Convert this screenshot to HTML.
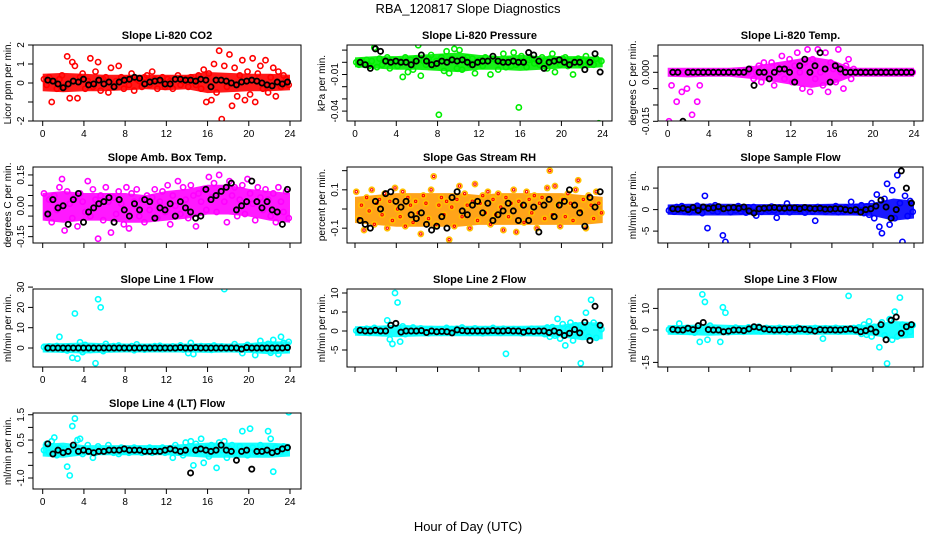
<!DOCTYPE html>
<html><head><meta charset="utf-8"><style>
body{margin:0;background:#fff}
svg{display:block;font-family:"Liberation Sans",sans-serif}
</style></head><body>
<svg id="chart" width="936" height="540" viewBox="0 0 936 540">
<rect width="936" height="540" fill="#fff"/>
<text x="468" y="13" text-anchor="middle" font-size="13">RBA_120817  Slope Diagnostics</text>
<text x="468" y="531" text-anchor="middle" font-size="13">Hour of Day (UTC)</text>
</svg>
<script>
// x-axis tick labels (hours)
const hourTicks = [0,4,8,12,16,20,24];
// envelope hours for dense bands
const bandHours = [0,2,4,6,8,10,12,14,16,18,20,22,24];

const co2Vals = [0.2,-0.1,0.3,-1.0,0.1,-0.3,0.2,0.4,-0.2,1.4,-0.8,1.1,0.9,-0.8,0.3,0.5,-0.3,0.1,1.3,-0.2,0.6,1.1,-0.4,0.2,0.3,-0.5,0.8,-0.2,0.1,0.9,0.3,-0.3,0.2,-0.1,0.5,-0.4,0.2,0.1,-0.2,0.3,0.4,-0.1,0.6,0.2,-0.3,0.1,0.3,-0.2,0.2,0.1,-0.3,0.2,0.4,-0.1,0.1,0.2,-0.2,0.3,0.1,-0.1,0.4,-0.3,0.7,-1.0,0.5,-0.9,1.0,-0.5,1.7,-1.9,0.9,-0.2,1.5,-1.2,0.8,-0.7,0.4,1.2,-0.9,0.6,-0.6,1.3,-1.0,0.5,0.9,-0.3,1.2,-0.5,0.3,0.8,-0.7,0.6,-0.2,0.4,0.2,-0.1];
const co2Black = [0.15,0.1,-0.05,-0.25,-0.05,0.1,0.05,0.2,-0.1,-0.05,0.15,-0.05,0.05,-0.2,0.05,0.15,0.2,0.3,0.25,-0.05,0.05,0.1,0.15,-0.05,-0.05,0.2,0.2,0.15,0.15,0.1,0.2,0.15,-0.2,0.15,0.15,0.1,0.0,-0.1,0.05,0.1,0.15,0.1,0.0,-0.1,-0.15,0.05,-0.05,0.05];
const co2Low = [-0.3,-0.35,-0.3,-0.3,-0.25,-0.2,-0.25,-0.2,-0.4,-0.35,-0.3,-0.3,-0.25];
const co2High = [0.35,0.4,0.35,0.3,0.3,0.3,0.3,0.3,0.45,0.4,0.35,0.35,0.3];

const presVals = [0,-0.002,0.001,-0.001,0.002,-0.003,0.001,0.012,-0.004,0.003,-0.002,0.001,0.004,-0.005,0.002,0,-0.003,0.001,-0.012,0.004,-0.008,0.002,-0.006,0.003,0.014,-0.011,0.001,-0.002,0.003,0.006,-0.003,0.001,-0.043,0.004,-0.007,0.009,-0.009,0.003,0.011,-0.005,0.01,-0.006,0.002,0.004,-0.002,0.003,-0.009,0.001,0.002,-0.003,0.004,0.001,-0.01,0.003,0.002,-0.006,0.001,0.007,-0.004,0.002,-0.003,0.008,-0.002,-0.037,0.005,0.001,-0.004,0.002,0.003,-0.001,0.002,-0.002,0.004,0.001,-0.005,0.003,0.007,-0.008,0.002,-0.002,0.003,0.004,-0.003,0.001,-0.01,0.002,0.003,-0.002,0.001,0.005,-0.001,0.002,-0.002,0.003,-0.05,0.001];
const presBlack = [0,-0.002,-0.005,0.011,0.009,0.001,0,0.001,0,0,-0.002,0.001,0.006,0.001,-0.002,-0.001,0.001,0,0.002,0.001,0.002,0,-0.002,0,0.001,0.001,0.005,0.001,0,0,0.001,0,0,0.008,0.006,0.001,-0.005,0,0.001,0.002,0,-0.002,0,0,-0.006,0,0.007,-0.008];
const presLow = [-0.002,-0.003,-0.004,-0.004,-0.005,-0.006,-0.004,-0.004,-0.005,-0.004,-0.003,-0.003,-0.002];
const presHigh = [0.002,0.003,0.003,0.004,0.005,0.006,0.004,0.003,0.004,0.003,0.003,0.003,0.002];

const tempVals = [-0.015,-0.004,0,-0.009,0,-0.006,0,-0.005,0,-0.013,0,-0.009,-0.004,0,0,0,0,0,0,0,0,0,0,0,0,0,0,0,0,0,0,0,0.001,-0.002,0,0.002,-0.003,0.003,0,-0.001,0.003,-0.004,0.002,0,0.005,-0.002,0.001,0.004,-0.003,0.002,0.006,0,-0.005,0.003,0.007,-0.006,0.004,-0.002,0.007,0,-0.004,0.006,-0.006,0.003,0.001,-0.003,0.007,0,-0.005,0.002,0.004,-0.002,0.001,0,0,0,0,0,0,0,0,0,0,0,0,0,0,0,0,0,0,0,0,0,0,0];
const tempBlack = [0,0,-0.015,0,0,0,0,0,0,0,0,0,0,0,0,0.001,-0.004,0,0,-0.002,0,0.001,0.001,0,-0.003,0.002,0.004,0,0.002,0.006,0.001,-0.003,0.002,0.001,0,0,0,0,0,0,0,0,0,0,0,0,0,0];
const tempLow = [-0.0006,-0.0008,-0.0006,-0.0006,-0.0012,-0.002,-0.003,-0.004,-0.003,-0.0006,-0.0006,-0.0006,-0.0006];
const tempHigh = [0.0006,0.0006,0.0006,0.0006,0.001,0.002,0.003,0.004,0.003,0.0006,0.0006,0.0006,0.0006];

const ambVals = [0.06,-0.04,0.03,-0.08,0.05,-0.02,0.09,0.13,-0.12,0.07,0.01,-0.06,0.04,-0.1,0.06,0.02,-0.03,0.12,-0.05,0.08,0.03,-0.16,0.05,-0.07,0.09,0.02,-0.13,0.04,-0.04,0.07,0.01,-0.09,0.09,-0.11,0.06,0.02,0.08,-0.05,0.03,-0.08,0.05,-0.02,0.04,0.08,-0.06,0.02,0.07,-0.03,0.1,-0.09,0.05,0.0,0.12,-0.04,0.09,0.03,-0.06,0.1,0.05,-0.1,0.06,0.02,0.08,-0.02,0.14,0.04,0.11,-0.03,0.15,0.07,0.02,-0.08,0.12,0.05,0.09,-0.05,0.03,0.1,-0.04,0.13,0.06,0.01,-0.07,0.09,0.04,-0.02,0.08,0.03,-0.05,0.06,-0.08,0.09,0.02,-0.03,0.07,-0.06];
const ambBlack = [-0.04,0.03,-0.01,0.0,-0.09,0.03,0.06,-0.08,-0.03,-0.01,0.01,0.02,0.04,-0.08,0.03,-0.02,-0.05,0.01,-0.02,0.03,0.02,-0.06,-0.01,-0.02,0.01,-0.05,0.02,-0.01,-0.03,-0.06,-0.05,0.08,0.03,0.05,0.07,0.09,0.11,-0.02,0.0,0.02,0.12,0.02,-0.01,0.02,-0.02,-0.03,-0.09,0.08];
const ambLow = [-0.06,-0.07,-0.06,-0.06,-0.07,-0.07,-0.06,-0.05,-0.03,-0.03,-0.04,-0.06,-0.07];
const ambHigh = [0.05,0.06,0.05,0.05,0.05,0.04,0.06,0.07,0.09,0.09,0.07,0.06,0.05];

const rhVals = [0.09,-0.05,0.02,-0.11,0.06,-0.01,0.1,-0.08,0.03,0.05,-0.03,0.08,-0.1,0.04,-0.06,0.11,0.0,-0.04,0.09,-0.09,0.06,0.02,-0.07,0.04,-0.02,-0.13,0.07,0.03,-0.05,0.1,0.17,-0.08,0.02,0.06,-0.03,0.04,-0.16,0.01,-0.09,0.05,0.12,-0.04,0.08,0.02,-0.1,0.04,0.13,-0.06,0.03,0.07,-0.02,0.09,-0.08,0.05,-0.03,0.08,0.01,-0.11,0.06,-0.04,0.03,0.1,-0.12,0.04,0.02,-0.07,0.09,0.05,-0.02,0.07,-0.1,0.03,0.06,-0.05,0.11,0.2,-0.03,0.12,0.02,-0.09,0.05,-0.04,0.08,0.03,-0.06,0.1,0.15,-0.01,0.05,-0.1,0.07,0.02,-0.05,0.09,0.03,-0.02];
const rhBlack = [-0.06,-0.08,-0.1,0.04,0.0,0.08,0.09,0.04,0.01,0.04,-0.03,-0.05,-0.02,-0.08,-0.11,-0.09,-0.04,-0.1,0.06,0.09,-0.01,-0.03,0.02,0.04,-0.02,0.03,-0.06,-0.03,-0.01,0.03,-0.01,-0.06,0.02,-0.06,0.01,-0.12,0.02,0.05,-0.04,0.02,0.04,0.1,0.02,-0.02,-0.09,0.06,0.01,0.09];
const rhLow = [-0.06,-0.07,-0.08,-0.08,-0.08,-0.08,-0.07,-0.07,-0.07,-0.07,-0.07,-0.07,-0.06];
const rhHigh = [0.05,0.06,0.07,0.07,0.07,0.07,0.06,0.07,0.07,0.07,0.07,0.06,0.05];

const sampVals = [-0.2,0.3,-0.5,0.6,-0.1,0.8,-0.4,0.2,-0.6,0.5,-0.2,0.9,0.1,-0.8,3.2,-4.3,0.7,-0.3,1.0,-0.5,0.2,-6.0,-7.5,0.4,-0.6,0.3,-0.2,0.8,-0.4,0.1,-0.7,0.5,-0.3,0.6,-1.4,0.2,-0.5,0.4,0.1,-0.3,0.7,-0.2,-1.9,0.5,-0.4,0.3,1.4,-0.6,0.2,-0.1,0.5,-0.3,0.4,-0.7,0.1,0.3,-0.4,-2.6,0.6,-0.2,0.3,-0.5,0.4,0.1,-0.3,0.8,-0.6,0.2,-0.4,0.5,-0.1,1.8,-0.3,0.6,-0.5,1.0,-0.8,0.7,-1.2,1.5,-2.0,3.5,-4.0,-5.5,2.5,6.0,-3.5,4.5,-2.0,8.0,1.5,-7.5,3.2,-1.5,2.0,-0.5];
const sampBlack = [0.2,0.1,0.3,0.0,0.5,-0.2,0.6,0.3,0.4,0.7,0.2,0.4,0.5,0.3,0.6,-0.3,-0.8,0.2,0.3,0.4,0.5,0.3,0.3,0.4,0.4,0.2,0.5,0.3,0.2,0.3,0.1,0.1,0.2,0.2,0.0,-0.2,0.0,-0.6,0.0,0.2,0.8,2.2,0.6,-2.0,0.0,9.0,5.0,1.5];
const sampLow = [-0.6,-0.8,-0.8,-0.8,-0.7,-0.7,-0.7,-0.7,-0.8,-0.8,-0.9,-2.0,-1.5];
const sampHigh = [0.6,0.8,0.8,0.8,0.7,0.7,0.7,0.7,0.8,0.8,1.0,2.0,1.5];

const l1Vals = [0.5,-0.3,0.8,-0.5,0.2,1.0,5.5,-0.8,0.3,-1.2,0.6,-4.8,17.0,-5.2,2.8,-2.0,1.5,0.4,-1.0,0.8,-7.5,24.0,20.0,-1.5,2.0,0.3,-0.6,0.9,-0.4,1.2,-0.2,0.6,-0.5,0.3,0.9,-1.1,1.8,-0.3,0.5,-0.8,0.2,0.6,-0.4,0.9,-0.2,1.1,-0.6,0.3,0.5,-0.1,0.8,-0.5,0.2,1.3,-0.7,0.4,-2.5,2.5,-3.0,0.6,-0.3,0.9,-0.5,0.2,0.7,-0.9,1.2,0.3,-0.4,0.8,29.0,-0.6,0.5,-0.2,1.9,-0.5,0.3,-2.5,0.8,1.5,-0.4,0.6,-3.5,1.0,3.5,-1.0,0.5,2.0,-2.3,4.0,1.2,-3.0,5.5,2.5,-0.8,3.0];
const l1Black = [0,0,0,0,0,0,0,0,0,0,0,0,0,0,0,0,0,0,0,0,0,0,0,0,0,0,0.2,0,0,0.2,0,0,0,0,0,0,0,0,-0.5,0.2,0,0,0,0,0,0,0,0.2];
const l1Low = [-1.0,-1.2,-1.5,-1.2,-1.0,-1.0,-1.0,-1.0,-1.2,-1.0,-1.2,-1.8,-1.5];
const l1High = [1.0,1.2,1.5,1.2,1.0,1.0,1.0,1.0,1.2,1.0,1.2,2.0,2.0];

const l2Vals = [0.1,-0.3,0.4,-0.2,0.6,-0.5,0.3,0.8,-0.4,0.2,-0.6,0.5,2.8,-2.2,-3.4,10.0,7.5,-2.8,1.2,-0.8,0.6,-0.3,0.9,-0.5,0.2,0.7,-0.4,0.3,-0.6,0.5,0.1,-0.2,0.4,-0.5,0.2,0.8,-0.3,0.5,-0.1,0.6,-0.4,0.9,-0.2,0.3,-0.5,0.4,0.7,-0.3,0.2,-0.6,0.5,0.1,-0.4,0.8,-0.2,0.3,-0.5,0.6,-6.0,0.2,-0.3,0.5,-0.1,0.4,-0.6,0.3,0.2,-0.4,0.6,-0.2,0.5,-0.3,0.3,-0.8,0.9,-1.5,1.0,-1.2,3.2,-2.0,1.8,-3.8,0.5,2.2,-2.5,1.5,-0.8,-8.5,0.8,4.8,-1.5,8.2,2.2,-1.8,1.5,0.5];
const l2Black = [0.2,0,0,0.2,0,0,1.5,2.0,-0.3,0,0,0,0.1,-0.4,0,-0.2,-0.1,-0.2,-0.5,0.3,0.1,0,0,0,0,0,0.1,0,0,0.1,0,0,-0.3,0,-0.1,0,0,-0.4,0,-0.4,-1.2,-0.6,0.4,-0.5,2.3,-2.5,6.5,1.5];
const l2Low = [-0.6,-0.7,-1.0,-0.8,-0.7,-0.7,-0.7,-0.7,-0.7,-0.8,-1.0,-1.8,-1.5];
const l2High = [0.6,0.7,1.0,0.8,0.7,0.7,0.7,0.7,0.7,0.8,1.0,1.8,1.5];

const l3Vals = [0.2,-0.5,0.8,-0.3,3.0,-0.6,0.4,1.0,-0.8,0.3,-1.2,0.6,-5.5,16.5,13.0,-4.5,2.0,-0.6,0.9,-0.3,-5.5,10.5,8.0,-1.0,0.6,-0.4,1.1,-0.2,0.5,-0.8,0.3,1.2,-0.5,0.8,-0.3,1.5,-0.6,0.4,0.9,-0.2,0.6,-0.7,0.3,1.0,-0.4,0.5,-0.9,0.2,0.7,-0.3,1.1,-0.5,0.4,0.2,-0.8,0.6,-0.2,0.9,-0.6,0.3,-4.0,0.8,-0.4,0.5,-0.2,1.0,-0.7,0.3,0.6,-0.5,15.8,-0.3,0.9,-0.6,1.2,-1.8,2.5,-2.2,4.0,-3.0,1.5,-1.0,-8.0,3.5,-2.5,-15.5,5.0,-4.5,8.5,-3.0,15.0,2.5,-2.0,1.5,-0.8,2.2];
const l3Black = [0.3,0,0,0.8,0.2,2.0,3.5,0.2,0,0,-0.8,-0.5,0,0,-0.3,0.5,1.5,1.2,0.5,0.2,0,0,0.3,0.2,0,0.5,0.3,0,-0.5,0.2,0,0.1,0,0,0.3,0.5,0,-0.8,-0.3,0.5,-1.0,2.5,-4.5,4.5,6.0,-1.5,1.5,2.5];
const l3Low = [-1.0,-1.2,-1.5,-1.2,-1.0,-1.0,-1.0,-1.0,-1.0,-1.0,-1.5,-3.0,-2.5];
const l3High = [1.0,1.2,1.5,1.2,1.0,1.0,1.0,1.0,1.0,1.0,1.5,3.0,2.5];

const l4Vals = [0.1,0.35,0.0,0.45,0.6,-0.1,0.2,0.05,0.15,-0.55,-0.9,1.05,1.35,0.5,0.55,-0.05,0.1,0.3,0.05,-0.2,0.0,0.25,0.1,0.05,0.05,0.3,0.15,0.0,0.1,-0.05,0.2,0.05,0.15,0.0,0.1,0.2,0.05,0.15,0.0,0.1,0.05,0.2,0.0,0.15,0.05,0.1,0.2,0.0,0.05,0.15,-0.2,0.3,0.1,0.0,-0.1,0.4,0.05,0.45,-0.5,0.35,0.1,0.55,-0.4,0.2,-0.15,0.3,0.05,-0.6,0.4,0.1,0.45,-0.2,0.15,0.3,0.0,-0.1,0.25,0.85,0.1,-0.1,0.95,0.2,0.0,-0.05,0.3,0.15,0.0,0.85,0.55,-0.75,0.2,0.1,0.05,0.25,0.15,1.6];
const l4Black = [0.35,-0.05,0.1,0.0,0.05,0.3,0.05,0.1,0.05,0.0,0.05,0.05,0.1,0.1,0.1,0.15,0.1,0.1,0.1,0.05,0.05,0.05,0.05,0.1,0.15,0.1,0.05,0.1,-0.8,0.1,0.15,0.1,0.05,0.1,0.3,0.1,0.05,-0.3,0.05,0.1,-0.65,0.05,0.05,0.1,0.0,0.05,0.15,0.2];
const l4Low = [-0.05,-0.1,0.0,0.0,0.0,0.0,0.0,-0.05,-0.1,-0.1,-0.1,-0.1,-0.05];
const l4High = [0.25,0.3,0.2,0.2,0.2,0.2,0.2,0.25,0.3,0.3,0.3,0.3,0.25];

const panels = [
 {name:"co2",title:"Slope Li-820 CO2",col:0,row:0,color:"#ff0000",vals:co2Vals,black:co2Black,low:co2Low,high:co2High,ylab:"Licor ppm per min.",y0:83,k:19,ticks:[2,1,0,-1,-2],labels:["2","1","0","","-2"]},
 {name:"pressure",title:"Slope Li-820 Pressure",col:1,row:0,color:"#00ee00",vals:presVals,black:presBlack,low:presLow,high:presHigh,ylab:"kPa per min.",y0:62.3,k:1220,ticks:[0.01,0,-0.01,-0.02,-0.03,-0.04],labels:["","","-0.01","","","-0.04"]},
 {name:"temp",title:"Slope Li-820 Temp.",col:2,row:0,color:"#ff00ff",vals:tempVals,black:tempBlack,low:tempLow,high:tempHigh,ylab:"degrees C per min.",y0:72.3,k:3267,ticks:[0.005,0,-0.005,-0.01,-0.015],labels:["","0.000","","","-0.015"]},
 {name:"amb-box-temp",title:"Slope Amb. Box Temp.",col:0,row:1,color:"#ff00ff",vals:ambVals,black:ambBlack,low:ambLow,high:ambHigh,ylab:"degrees C per min.",y0:205.8,k:205.7,ticks:[0.15,0.1,0.05,0,-0.05,-0.1,-0.15],labels:["0.15","","","0.00","","","-0.15"]},
 {name:"gas-rh",title:"Slope Gas Stream RH",col:1,row:1,color:"#ffc000",bandColor:"#ff9a00",vals:rhVals,black:rhBlack,low:rhLow,high:rhHigh,ylab:"percent per min.",y0:209,k:191.7,ticks:[0.2,0.1,0,-0.1],labels:["","0.1","","-0.1"],rh:true},
 {name:"sample-flow",title:"Slope Sample Flow",col:2,row:1,color:"#0000ff",vals:sampVals,black:sampBlack,low:sampLow,high:sampHigh,ylab:"ml/min per min.",y0:209.6,k:4.3,ticks:[5,0,-5],labels:["5","0","-5"]},
 {name:"line1-flow",title:"Slope Line 1 Flow",col:0,row:2,color:"#00ffff",vals:l1Vals,black:l1Black,low:l1Low,high:l1High,ylab:"ml/min per min.",y0:348,k:2.03,ticks:[30,20,10,0],labels:["30","20","10","0"]},
 {name:"line2-flow",title:"Slope Line 2 Flow",col:1,row:2,color:"#00ffff",vals:l2Vals,black:l2Black,low:l2Low,high:l2High,ylab:"ml/min per min.",y0:331,k:3.8,ticks:[10,5,0,-5],labels:["10","5","0","-5"]},
 {name:"line3-flow",title:"Slope Line 3 Flow",col:2,row:2,color:"#00ffff",vals:l3Vals,black:l3Black,low:l3Low,high:l3High,ylab:"ml/min per min.",y0:330,k:2.16,ticks:[10,0,-15],labels:["10","0","-15"]},
 {name:"line4-flow",title:"Slope Line 4 (LT) Flow",col:0,row:3,color:"#00ffff",vals:l4Vals,black:l4Black,low:l4Low,high:l4High,ylab:"ml/min per min.",y0:452.7,k:25.3,ticks:[1.5,1.0,0.5,0,-0.5,-1.0],labels:["1.5","","0.5","","","-1.0"]}
];

const NS="http://www.w3.org/2000/svg";
const svg=document.getElementById('chart');
const colX=[{l:33,r:301,x0:42.7,x24:290},{l:347,r:612,x0:355,x24:602.7},{l:658,r:923,x0:667.7,x24:914}];
const rowY=[{t:45,b:121},{t:167,b:243},{t:289,b:367},{t:413,b:489}];
function mk(tag,attrs,parent){const e=document.createElementNS(NS,tag);for(const k in attrs)e.setAttribute(k,attrs[k]);(parent||svg).appendChild(e);return e;}

panels.forEach(p=>{
  const c=colX[p.col], r=rowY[p.row];
  const xs=h=>c.x0+(c.x24-c.x0)*h/24;
  const ys=v=>p.y0-v*p.k;
  const g=mk('g',{});
  
  
  const t=mk('text',{x:(c.l+c.r)/2,y:r.t-6,'text-anchor':'middle','font-size':11,'font-weight':'bold'},g);
  t.textContent=p.title;
  
  
  const cp=mk('clipPath',{id:'cp'+p.name},g);
  mk('rect',{x:c.l,y:r.t,width:c.r-c.l,height:r.b-r.t},cp);
  const pts=mk('g',{'clip-path':'url(#cp'+p.name+')',fill:'none','stroke-width':1.6},g);
  
  
  // dense band envelope
  let d='';
  bandHours.forEach((h,i)=>{d+=(i?'L':'M')+xs(h).toFixed(1)+','+(ys(p.high[i])-2.5).toFixed(1);});
  for(let i=bandHours.length-1;i>=0;i--){d+='L'+xs(bandHours[i]).toFixed(1)+','+(ys(p.low[i])+2.5).toFixed(1);}
  const band=mk('path',{d:d+'Z',fill:p.bandColor||p.color,stroke:'none',opacity:0.9},pts);
  
  
  const n=p.vals.length;
  p.vals.forEach((v,i)=>{
    const h=(i+0.5)*24/n;
    const cx=xs(h), cy=ys(v);
    const e=mk('circle',{cx:cx,cy:cy,r:2.6,stroke:p.color},pts);
    
    
    if(p.rh){const e2=mk('circle',{cx:cx,cy:cy,r:1.2,stroke:'#ff0000','stroke-width':1},pts);
      
      }
  });
  const nb=p.black.length;
  p.black.forEach((v,i)=>{
    const h=(i+1)*24/(nb+0.5);
    const e=mk('circle',{cx:xs(h),cy:ys(v),r:2.6,stroke:'#000','stroke-width':1.8},pts);
    
    
  });
  const box=mk('rect',{x:c.l,y:r.t,width:c.r-c.l,height:r.b-r.t,fill:'none',stroke:'#000','stroke-width':1},g);
  
  
  hourTicks.forEach(h=>{
    const x=xs(h);
    mk('line',{x1:x,x2:x,y1:r.b,y2:r.b+5,stroke:'#000'},g);
    if(p.row===2 && p.col>0) return;
    if(p.row===1) return;
    const tl=mk('text',{x:x,y:r.b+16,'text-anchor':'middle','font-size':10},g);
    tl.textContent=h;
    
    
  });
  p.ticks.forEach((v,i)=>{
    const y=ys(v);
    mk('line',{x1:c.l-5,x2:c.l,y1:y,y2:y,stroke:'#000'},g);
    if(p.labels[i]){
      const tl=mk('text',{x:c.l-9,y:y,'text-anchor':'middle','font-size':10,transform:`rotate(-90 ${c.l-9} ${y})`},g);
      tl.textContent=p.labels[i];
      
      
    }
  });
  const ym=(r.t+r.b)/2, xl=c.l-22;
  const yl=mk('text',{x:xl,y:ym,'text-anchor':'middle','font-size':10,transform:`rotate(-90 ${xl} ${ym})`},g);
  yl.textContent=p.ylab;
  
  
});
</script>
</body></html>
